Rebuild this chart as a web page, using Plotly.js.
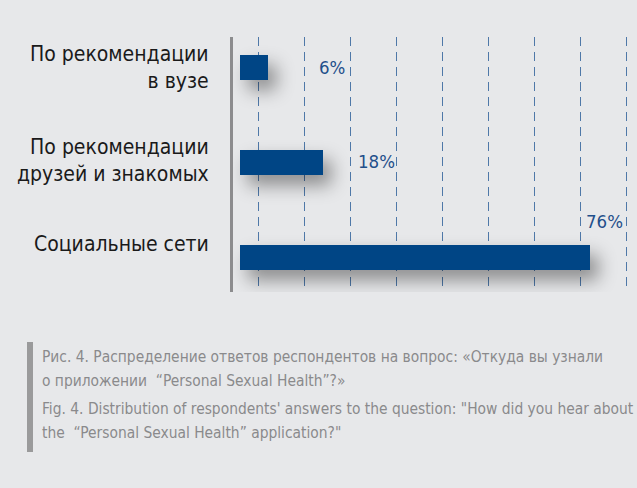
<!DOCTYPE html>
<html>
<head>
<meta charset="utf-8">
<script src="https://cdn.plot.ly/plotly-3.0.1.min.js"></script>
<style>
  html, body { margin: 0; padding: 0; background: #e7e8ea; }
  #wrap { position: relative; width: 637px; height: 488px; background: #e7e8ea; overflow: hidden; }
  #chart { position: absolute; left: 0; top: 0; width: 637px; height: 488px; }
  #caption { position: absolute; left: 27px; top: 342px; border-left: 6px solid #9a9a9b;
             padding: 3px 0 7px 9px; font-family: "DejaVu Sans Condensed", "Roboto", sans-serif;
             font-size: 15.4px; line-height: 24px; color: #8a8a8c; white-space: nowrap; }
  #caption p { margin: 0; }
  #caption p + p { margin-top: 4px; }
</style>
</head>
<body>
<div id="wrap">
  <div id="chart"></div>
  <div id="caption">
    <p>Рис. 4. Распределение ответов респондентов на вопрос: «Откуда вы узнали<br>о приложении &nbsp;“Personal Sexual Health”?»</p>
    <p>Fig. 4. Distribution of respondents' answers to the question: "How did you hear about<br>the &nbsp;“Personal Sexual Health” application?"</p>
  </div>
</div>
<script>
// Data
const categories = ["По рекомендации<br>в вузе", "По рекомендации<br>друзей и знакомых", "Социальные сети"];
const values = [6, 18, 76];
const valueLabels = ["6%", "18%", "76%"];

const FONT = '"DejaVu Sans Condensed", Roboto, sans-serif';
const barColor = '#004585';

const trace = {
  type: 'bar',
  orientation: 'h',
  y: categories,
  x: values,
  width: 0.263,
  marker: { color: barColor, line: { width: 0 } },
  hoverinfo: 'none'
};

// label offsets (styling only)
const catShift = [0, 2, 14];
const valShift = [[49, 0], [33, 1], [-6, 36]];

const annotations = [];
categories.forEach((c, i) => {
  annotations.push({
    xref: 'paper', yref: 'y', x: 0, y: c, xanchor: 'right', yanchor: 'middle',
    xshift: -22, yshift: catShift[i], align: 'right', showarrow: false, text: c,
    font: { family: FONT, size: 21, color: '#1a1a1a' }
  });
  annotations.push({
    xref: 'x', yref: 'y', x: values[i], y: c, xanchor: 'left', yanchor: 'middle',
    xshift: valShift[i][0], yshift: valShift[i][1], showarrow: false, text: valueLabels[i],
    font: { family: FONT, size: 18.5, color: '#1f4f8a' }
  });
});

const layout = {
  width: 637, height: 488,
  margin: { l: 233, r: 7, t: 37, b: 196, pad: 0 },
  paper_bgcolor: 'rgba(0,0,0,0)',
  plot_bgcolor: 'rgba(0,0,0,0)',
  showlegend: false,
  bargap: 0,
  xaxis: {
    range: [-1.52, 84.8], tick0: 4, dtick: 10,
    showgrid: true, gridcolor: '#4f78a8', gridwidth: 1.5, griddash: '9px,6px',
    zeroline: false, showline: false, showticklabels: false, ticks: '', fixedrange: true
  },
  yaxis: {
    type: 'category', categoryorder: 'array', categoryarray: categories,
    range: [2.36, -0.321],
    showgrid: false, zeroline: false, showticklabels: false, ticks: '',
    showline: true, linecolor: '#8c8c8e', linewidth: 3, fixedrange: true
  },
  annotations: annotations
};

Plotly.newPlot('chart', [trace], layout, { staticPlot: true, displayModeBar: false }).then(() => {
  document.querySelectorAll('#chart .point path').forEach(p => {
    p.style.filter = 'drop-shadow(8px 10px 9px rgba(0,0,0,0.4))';
  });
});
</script>
</body>
</html>
